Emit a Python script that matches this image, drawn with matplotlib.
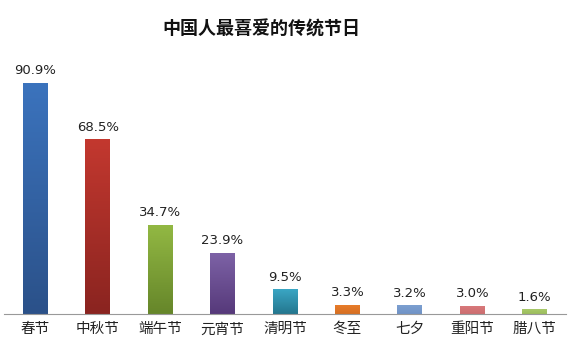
import numpy as np
import matplotlib.pyplot as plt
from matplotlib.colors import LinearSegmentedColormap

plt.rcParams['font.family'] = ['Noto Sans CJK SC', 'DejaVu Sans']

festivals = ['春节', '中秋节', '端午节', '元宵节', '清明节', '冬至', '七夕', '重阳节', '腊八节']
percent = [90.9, 68.5, 34.7, 23.9, 9.5, 3.3, 3.2, 3.0, 1.6]
labels = ['90.9%', '68.5%', '34.7%', '23.9%', '9.5%', '3.3%', '3.2%', '3.0%', '1.6%']
# (top colour, bottom colour) for each bar
colors = [('#3b73bd', '#2b5189'), ('#c3382f', '#8a2420'), ('#92b843', '#66862a'),
          ('#7d62a6', '#56397a'), ('#3aa6c4', '#24768e'), ('#e77c2a', '#d66f22'),
          ('#7c9fd0', '#7093c6'), ('#d8787a', '#cc6e70'), ('#a8c96a', '#9cbd5c')]

fig = plt.figure(figsize=(5.7, 3.63), dpi=100)
ax = fig.add_axes([0.007, 0.135, 0.986, 0.70])

x = np.arange(len(festivals))
w = 0.4
grad = np.linspace(0, 1, 100).reshape(-1, 1)
for i, v in enumerate(percent):
    cmap = LinearSegmentedColormap.from_list('g', [colors[i][1], colors[i][0]])
    ax.imshow(grad, extent=[x[i] - w / 2, x[i] + w / 2, 0, v], aspect='auto',
              cmap=cmap, origin='lower', zorder=2)
    ax.text(x[i], v + 2.5, labels[i], ha='center', va='bottom', fontsize=9.5,
            color='#222222', family=['DejaVu Sans'])

ax.set_xlim(-0.5, len(festivals) - 0.5)
ax.set_ylim(0, 100)
ax.set_xticks(x)
ax.set_xticklabels(festivals, fontsize=10.5, color='#222222')
ax.tick_params(axis='x', length=0, pad=6)
ax.set_yticks([])
for s in ['top', 'left', 'right']:
    ax.spines[s].set_visible(False)
ax.spines['bottom'].set_color('#999999')

fig.text(0.458, 0.92, '中国人最喜爱的传统节日', ha='center', va='center',
         fontsize=13, fontweight='bold', color='#111111')

fig.savefig('out.png', dpi=100)
